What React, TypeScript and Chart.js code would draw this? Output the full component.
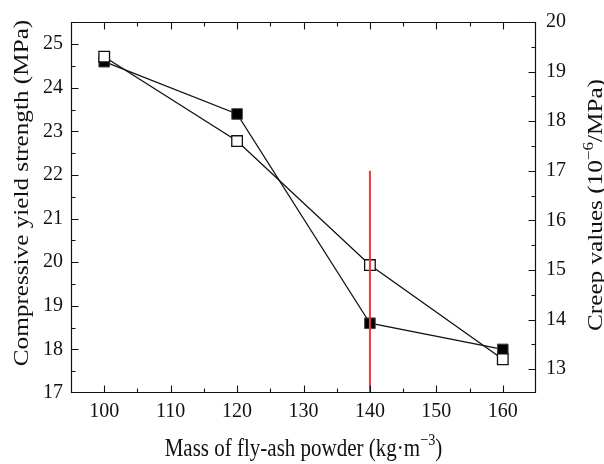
import React, { useEffect, useRef } from "react";
import { Chart, registerables } from "chart.js";

Chart.register(...registerables);

// ---- data ----
const massValues = [100, 120, 140, 160];
const compressiveStrength = [24.6, 23.4, 18.6, 18.0];
const creepValues = [19.3, 17.6, 15.1, 13.2];
const markerLineMass = [140, 140];
const markerLineCreep = [12.52, 17.0];

// axis ranges / tick labels
const xRange = [95, 165];
const leftRange = [17, 25.51];
const rightRange = [12.52, 20];
const xTicks = [100, 110, 120, 130, 140, 150, 160];
const leftTicks = [17, 18, 19, 20, 21, 22, 23, 24, 25];
const rightTicks = [13, 14, 15, 16, 17, 18, 19, 20];

const xTitle = ["Mass of fly-ash powder (kg·m", "−3", ")"];
const leftTitle = ["Compressive yield strength (MPa)"];
const rightTitle = ["Creep values (10", "−6", "/MPa)"];

const FONT = "'Liberation Serif', 'Times New Roman', serif";
const TICK_SIZE = 20;
const TITLE_SIZE = 21;
const STRETCH = 1.2; // reference glyphs are taller than wide

function drawRich(ctx: CanvasRenderingContext2D, parts: string[], size: number) {
  // parts alternate: normal, superscript, normal...
  const supSize = size * 0.68;
  let total = 0;
  const widths: number[] = [];
  parts.forEach((p, i) => {
    ctx.font = `${i % 2 === 1 ? supSize : size}px ${FONT}`;
    const w = ctx.measureText(p).width;
    widths.push(w);
    total += w;
  });
  let x = -total / 2;
  parts.forEach((p, i) => {
    const sup = i % 2 === 1;
    ctx.font = `${sup ? supSize : size}px ${FONT}`;
    ctx.fillText(p, x, sup ? -size * 0.42 : 0);
    x += widths[i];
  });
}

function minorBetween(ticks: number[], lo: number, hi: number) {
  const out: number[] = [];
  const step = ticks[1] - ticks[0];
  for (const t of ticks) {
    const m1 = t - step / 2;
    const m2 = t + step / 2;
    if (m1 > lo && m1 < hi && !out.includes(m1)) out.push(m1);
    if (m2 > lo && m2 < hi && !out.includes(m2)) out.push(m2);
  }
  return out;
}

const framePlugin = {
  id: "frameAndTicks",
  afterDraw(chart: any) {
    const ctx: CanvasRenderingContext2D = chart.ctx;
    const a = chart.chartArea;
    const xs = chart.scales.x;
    const yl = chart.scales.y;
    const yr = chart.scales.y1;
    const L = Math.round(a.left) + 0.5;
    const R = Math.round(a.right) - 0.5;
    const T = Math.round(a.top) + 0.5;
    const B = Math.round(a.bottom) - 0.5;
    ctx.save();
    ctx.strokeStyle = "#111";
    ctx.lineWidth = 1.2;
    ctx.beginPath();
    ctx.rect(L, T, R - L, B - T);
    ctx.stroke();

    ctx.lineWidth = 1.1;
    ctx.beginPath();
    const xMinor = minorBetween(xTicks, xRange[0], xRange[1]);
    xTicks.forEach((v) => {
      const px = Math.round(xs.getPixelForValue(v)) + 0.5;
      ctx.moveTo(px, B); ctx.lineTo(px, B - 7);
      ctx.moveTo(px, T); ctx.lineTo(px, T + 7);
    });
    xMinor.forEach((v) => {
      const px = Math.round(xs.getPixelForValue(v)) + 0.5;
      ctx.moveTo(px, B); ctx.lineTo(px, B - 4);
      ctx.moveTo(px, T); ctx.lineTo(px, T + 4);
    });
    leftTicks.forEach((v) => {
      if (v <= leftRange[0]) return;
      const py = Math.round(yl.getPixelForValue(v)) + 0.5;
      ctx.moveTo(L, py); ctx.lineTo(L + 7, py);
    });
    minorBetween(leftTicks, leftRange[0], leftRange[1]).forEach((v) => {
      const py = Math.round(yl.getPixelForValue(v)) + 0.5;
      ctx.moveTo(L, py); ctx.lineTo(L + 4, py);
    });
    rightTicks.forEach((v) => {
      if (v >= rightRange[1]) return;
      const py = Math.round(yr.getPixelForValue(v)) + 0.5;
      ctx.moveTo(R, py); ctx.lineTo(R - 7, py);
    });
    minorBetween(rightTicks, rightRange[0], rightRange[1]).forEach((v) => {
      const py = Math.round(yr.getPixelForValue(v)) + 0.5;
      ctx.moveTo(R, py); ctx.lineTo(R - 4, py);
    });
    ctx.stroke();

    // titles
    ctx.fillStyle = "#111";
    ctx.textBaseline = "alphabetic";
    ctx.textAlign = "left";
    // x title
    ctx.save();
    ctx.translate((a.left + a.right) / 2, 456);
    ctx.scale(1, STRETCH);
    drawRich(ctx, xTitle, TITLE_SIZE);
    ctx.restore();
    // left title
    ctx.save();
    ctx.translate(28, 193);
    ctx.rotate(-Math.PI / 2);
    ctx.scale(STRETCH, 1);
    drawRich(ctx, leftTitle, TITLE_SIZE);
    ctx.restore();
    // right title
    ctx.save();
    ctx.translate(602, 205);
    ctx.rotate(-Math.PI / 2);
    ctx.scale(STRETCH, 1);
    drawRich(ctx, rightTitle, TITLE_SIZE);
    ctx.restore();

    ctx.restore();
  },
};

function fixedTicks(values: number[]) {
  return (s: any) => {
    s.ticks = values.map((v) => ({ value: v }));
  };
}

export default function App() {
  const ref = useRef<HTMLCanvasElement | null>(null);

  useEffect(() => {
    if (!ref.current) return;
    const tickFont = { family: FONT, size: TICK_SIZE };
    const chart = new Chart(ref.current, {
      type: "line",
      data: {
        datasets: [
          {
            label: "marker",
            data: markerLineMass.map((m, i) => ({ x: m, y: markerLineCreep[i] })),
            yAxisID: "y1",
            borderColor: "rgb(236,58,58)",
            borderWidth: 2,
            pointRadius: 0,
            order: 0,
          },
          {
            label: "Creep values",
            data: massValues.map((m, i) => ({ x: m, y: creepValues[i] })),
            yAxisID: "y1",
            borderColor: "#111",
            borderWidth: 1.3,
            pointStyle: "rect",
            pointRadius: 7.5,
            pointBackgroundColor: "#fff",
            pointBorderColor: "#111",
            pointBorderWidth: 1.3,
            order: 1,
          },
          {
            label: "Compressive yield strength",
            data: massValues.map((m, i) => ({ x: m, y: compressiveStrength[i] })),
            yAxisID: "y",
            borderColor: "#111",
            borderWidth: 1.3,
            pointStyle: "rect",
            pointRadius: 7.5,
            pointBackgroundColor: "#000",
            pointBorderColor: "#444",
            pointBorderWidth: 1,
            order: 2,
          },
        ],
      },
      options: {
        responsive: false,
        animation: false,
        devicePixelRatio: 1,
        layout: { padding: { top: 15, left: 0, right: 0, bottom: 0 } },
        plugins: { legend: { display: false }, tooltip: { enabled: false } },
        scales: {
          x: {
            type: "linear",
            position: "bottom",
            min: xRange[0],
            max: xRange[1],
            grid: { display: false, drawTicks: false },
            border: { display: false },
            ticks: { font: tickFont, color: "#111", padding: 7, maxRotation: 0, autoSkip: false },
            afterBuildTicks: fixedTicks(xTicks),
            afterFit: (s: any) => {
              s.height = 71;
            },
          },
          y: {
            type: "linear",
            position: "left",
            min: leftRange[0],
            max: leftRange[1],
            grid: { display: false, drawTicks: false },
            border: { display: false },
            ticks: { font: tickFont, color: "#111", padding: 8, autoSkip: false },
            afterBuildTicks: fixedTicks(leftTicks),
            afterFit: (s: any) => {
              s.width = 71;
            },
          },
          y1: {
            type: "linear",
            position: "right",
            min: rightRange[0],
            max: rightRange[1],
            grid: { display: false, drawTicks: false },
            border: { display: false },
            ticks: { font: tickFont, color: "#111", padding: 10, autoSkip: false },
            afterBuildTicks: fixedTicks(rightTicks),
            afterFit: (s: any) => {
              s.width = 68;
            },
          },
        },
      },
      plugins: [framePlugin],
    });
    return () => chart.destroy();
  }, []);

  return (
    <div style={{ position: "fixed", left: 0, top: 0, width: 604, height: 464, background: "#fff" }}>
      <canvas ref={ref} width={604} height={464} style={{ width: 604, height: 464, display: "block" }} />
    </div>
  );
}
